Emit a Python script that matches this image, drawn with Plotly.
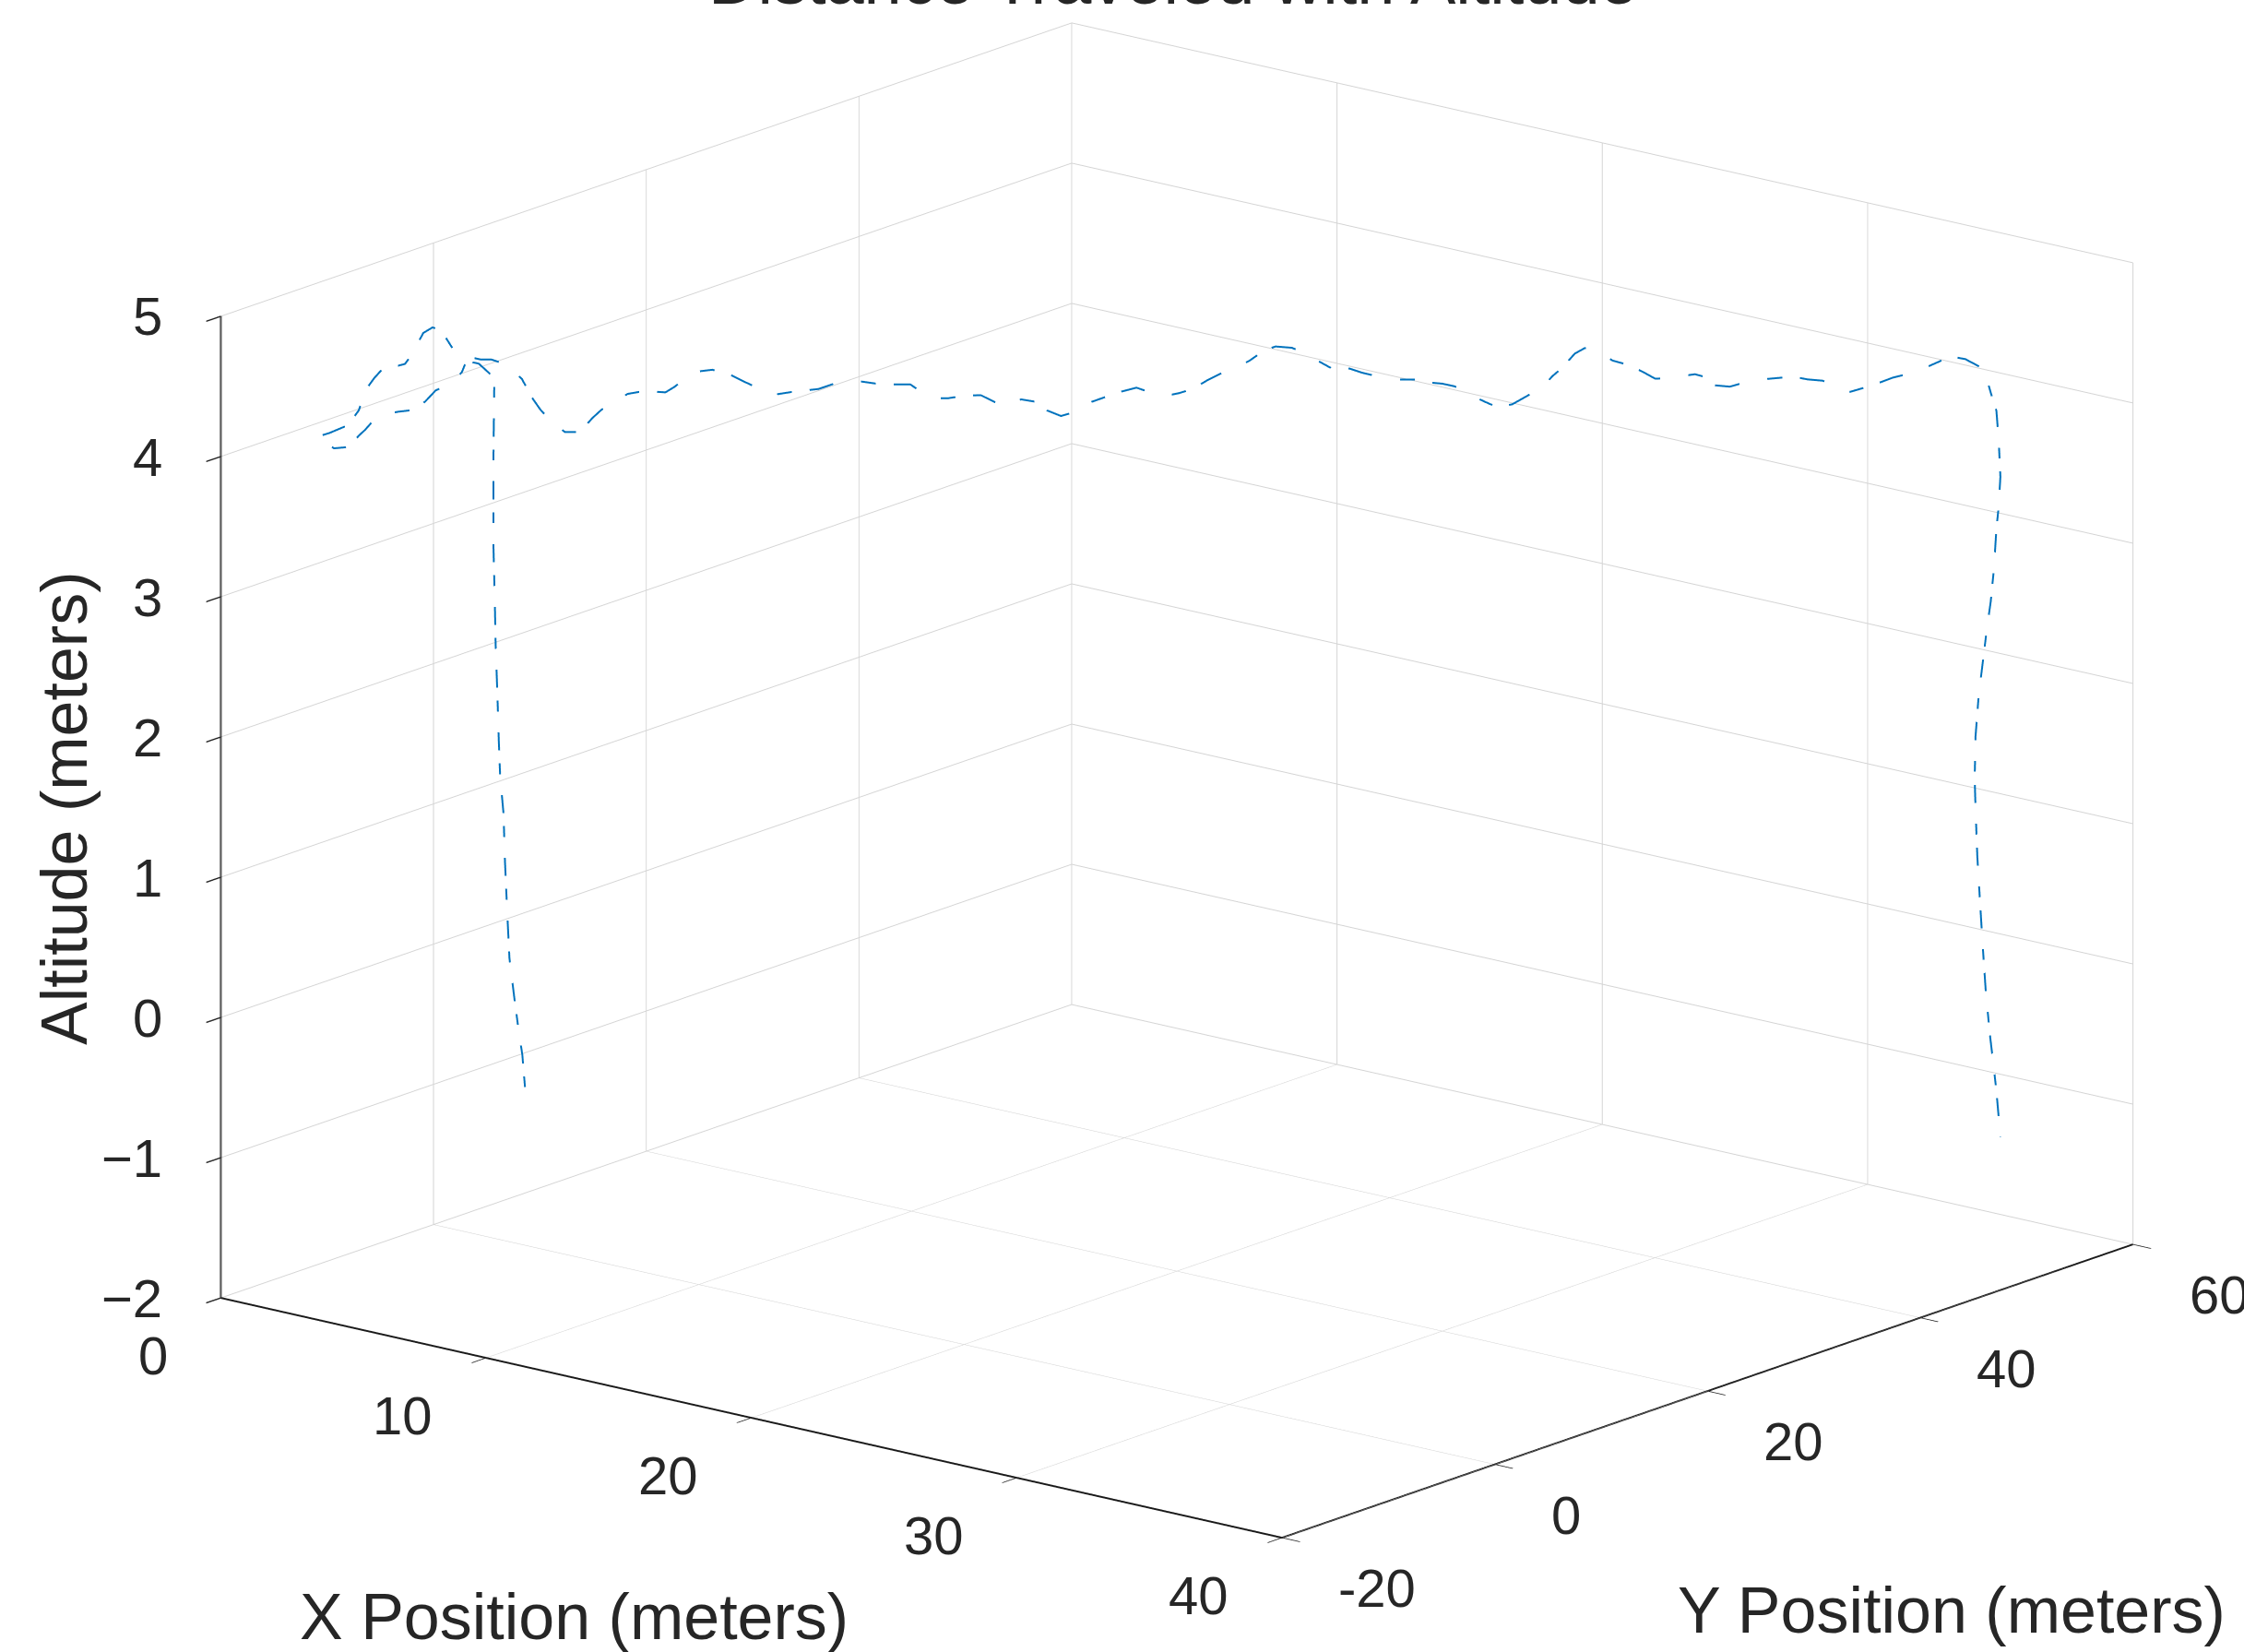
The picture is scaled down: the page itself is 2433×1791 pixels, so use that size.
import plotly.graph_objects as go

# Flight path (meters)
x_pos = [6.43, 6.37, 6.29, 6.19, 6.08, 6.03, 5.98, 5.95, 5.87, 5.84, 5.81, 5.77, 5.75, 5.72, 5.72, 5.72, 5.74,
         5.63, 5.39, 5.25, 5.04, 4.82, 4.66, 4.52, 4.35, 4.14, 3.97, 3.87, 3.73, 3.48, 3.21, 3.04, 2.90, 2.79,
         2.69, 2.55, 2.41, 2.03, 1.72, 1.86, 2.13, 2.48, 2.69, 2.83, 2.97, 3.21, 3.59, 3.87, 4.00, 4.18, 4.42,
         4.63, 4.80, 5.01, 5.15, 5.43, 5.67, 5.95, 6.19, 6.36, 6.46, 6.60, 6.78, 6.98, 7.09, 7.33, 7.64, 7.78,
         7.95, 8.16, 8.47, 8.74, 9.11, 9.59, 9.80, 10.07, 10.38, 10.65, 11.07, 11.39, 11.66, 12.03, 12.45, 13.04,
         13.41, 13.72, 14.04, 14.46, 15.10, 15.37, 15.63, 15.95, 16.37, 16.69, 17.01, 17.27, 17.59, 17.96, 18.18,
         18.49, 18.71, 18.92, 19.18, 19.45, 19.82, 20.19, 20.46, 20.83, 21.15, 21.46, 21.78, 22.10, 22.42, 22.74,
         23.05, 23.32, 23.69, 23.97, 24.25, 24.59, 24.99, 25.27, 25.66, 26.11, 26.45, 26.73, 27.07, 27.35, 27.69,
         28.03, 28.31, 28.64, 28.98, 29.32, 29.55, 29.77, 30.05, 30.28, 30.62, 30.90, 31.24, 31.57, 31.86, 32.19,
         32.53, 32.76, 32.98, 33.21, 33.54, 33.88, 34.22, 34.61, 34.95, 35.29, 35.63, 35.91, 36.25, 36.58, 36.87,
         37.21, 37.60, 37.94, 38.23, 38.50, 38.84, 39.19, 39.33, 39.41, 39.54, 39.59, 39.63, 39.59, 39.54, 39.48,
         39.41, 39.33, 39.23, 39.14, 39.07, 39.05, 39.07, 39.11, 39.16, 39.23, 39.30, 39.39, 39.47, 39.54, 39.63]

y_pos = [-7.44, -7.54, -7.68, -7.85, -8.03, -8.12, -8.20, -8.26, -8.38, -8.43, -8.49, -8.55, -8.59, -8.63, -8.63,
         -8.63, -8.61, -8.78, -9.19, -9.43, -9.78, -10.15, -10.42, -10.65, -10.94, -11.29, -11.58, -11.76, -11.99,
         -12.40, -12.87, -13.16, -13.39, -13.57, -13.74, -13.97, -14.21, -14.85, -15.37, -15.14, -14.67, -14.09,
         -13.74, -13.51, -13.27, -12.87, -12.22, -11.76, -11.53, -11.23, -10.83, -10.48, -10.18, -9.83, -9.60,
         -9.13, -8.73, -8.26, -7.85, -7.56, -7.38, -7.15, -6.86, -6.51, -6.33, -5.93, -5.40, -5.17, -4.88, -4.53,
         -4.00, -3.55, -2.92, -2.12, -1.77, -1.32, -0.78, -0.34, 0.38, 0.91, 1.36, 1.98, 2.70, 3.68, 4.30, 4.84,
         5.37, 6.09, 7.16, 7.61, 8.06, 8.59, 9.30, 9.84, 10.37, 10.82, 11.35, 11.98, 12.34, 12.87, 13.23, 13.59,
         14.04, 14.48, 15.11, 15.73, 16.18, 16.80, 17.34, 17.87, 18.41, 18.94, 19.48, 20.01, 20.55, 20.99, 21.62,
         22.10, 22.57, 23.14, 23.80, 24.28, 24.94, 25.70, 26.27, 26.74, 27.31, 27.79, 28.36, 28.92, 29.40, 29.97,
         30.54, 31.11, 31.48, 31.86, 32.34, 32.72, 33.29, 33.76, 34.33, 34.90, 35.37, 35.94, 36.51, 36.89, 37.27,
         37.65, 38.22, 38.79, 39.35, 40.02, 40.59, 41.15, 41.73, 42.20, 42.77, 43.34, 43.81, 44.38, 45.04, 45.61,
         46.10, 46.56, 47.13, 47.73, 47.96, 48.10, 48.31, 48.40, 48.46, 48.39, 48.31, 48.22, 48.10, 47.96, 47.79,
         47.64, 47.52, 47.49, 47.52, 47.59, 47.67, 47.79, 47.91, 48.06, 48.20, 48.31, 48.46]

altitude = [-0.55, -0.32, -0.15, 0.09, 0.37, 0.71, 1.06, 1.40, 1.67, 1.92, 2.26, 2.60, 2.95, 3.29, 3.64, 3.98, 4.46,
            4.54, 4.61, 4.62, 4.66, 4.71, 4.79, 4.85, 4.87, 4.83, 4.73, 4.67, 4.61, 4.59, 4.57, 4.51, 4.45, 4.37,
            4.28, 4.22, 4.17, 4.12, 4.09, 4.07, 4.01, 4.02, 4.10, 4.14, 4.19, 4.25, 4.27, 4.28, 4.30, 4.34, 4.42,
            4.45, 4.48, 4.55, 4.66, 4.64, 4.64, 4.61, 4.55, 4.50, 4.44, 4.36, 4.28, 4.21, 4.18, 4.12, 4.12, 4.16,
            4.22, 4.28, 4.34, 4.39, 4.41, 4.40, 4.44, 4.51, 4.55, 4.56, 4.52, 4.47, 4.43, 4.38, 4.40, 4.42, 4.46,
            4.48, 4.47, 4.45, 4.45, 4.39, 4.35, 4.35, 4.37, 4.37, 4.32, 4.29, 4.34, 4.32, 4.26, 4.22, 4.24, 4.25,
            4.32, 4.35, 4.39, 4.42, 4.39, 4.36, 4.38, 4.41, 4.47, 4.52, 4.56, 4.61, 4.68, 4.71, 4.70, 4.66, 4.61,
            4.55, 4.55, 4.52, 4.49, 4.47, 4.47, 4.45, 4.44, 4.42, 4.36, 4.31, 4.27, 4.29, 4.35, 4.41, 4.49, 4.55,
            4.65, 4.69, 4.66, 4.60, 4.57, 4.52, 4.47, 4.47, 4.49, 4.50, 4.48, 4.42, 4.41, 4.44, 4.46, 4.47, 4.48,
            4.46, 4.45, 4.41, 4.37, 4.40, 4.43, 4.47, 4.50, 4.54, 4.58, 4.62, 4.60, 4.54, 4.45, 4.36, 4.23, 4.02,
            3.76, 3.54, 3.39, 3.10, 2.87, 2.69, 2.43, 2.20, 1.91, 1.61, 1.39, 1.05, 0.79, 0.42, 0.09, -0.21, -0.43,
            -0.62, -0.95]

x_range = [0, 40]
y_range = [-20, 60]
z_range = [-2, 5]
x_ticks = [0, 10, 20, 30, 40]
x_ticktext = ["0", "10", "20", "30", "40"]
y_ticks = [-20, 0, 20, 40, 60]
y_ticktext = ["-20", "0", "20", "40", "60"]
z_ticks = [-2, -1, 0, 1, 2, 3, 4, 5]
z_ticktext = ["\u22122", "\u22121", "0", "1", "2", "3", "4", "5"]

W, H = 2433, 1791
TXT = "#262626"
FONT = "Liberation Sans, Arial, sans-serif"
TICK_SIZE = 58

fig = go.Figure()
fig.add_trace(go.Scatter3d(
    x=x_pos, y=y_pos, z=altitude, mode="lines",
    line=dict(color="#0072BD", width=4, dash="dashdot"),
    hoverinfo="skip", showlegend=False))

def axis(rng, tv):
    return dict(range=rng, autorange=False, tickmode="array", tickvals=tv,
                showticklabels=False,
                showbackground=False, showgrid=True, gridcolor="#D4D4D4", gridwidth=2,
                zeroline=False, showline=True, linecolor="#1A1A1A", linewidth=4,
                ticks="outside", ticklen=25, tickwidth=3, tickcolor=TXT,
                showspikes=False, title=dict(text=""))

x0, x1 = x_range
y0, y1 = y_range
z0, z1 = z_range
tick_font = dict(family=FONT, size=TICK_SIZE, color=TXT)
scene_ann = []
for v, t in zip(x_ticks, x_ticktext):
    scene_ann.append(dict(x=v, y=y0, z=z0, text=t, showarrow=False,
                          xanchor="right", yanchor="middle", xshift=-56, yshift=-62, font=tick_font))
for v, t in zip(y_ticks, y_ticktext):
    scene_ann.append(dict(x=x1, y=v, z=z0, text=t, showarrow=False,
                          xanchor="left", yanchor="middle", xshift=59, yshift=-54, font=tick_font))
for v, t in zip(z_ticks, z_ticktext):
    scene_ann.append(dict(x=x0, y=y0, z=v, text=t, showarrow=False,
                          xanchor="right", yanchor="middle", xshift=-62, yshift=0, font=tick_font))

ex, ey, ez = 0.604, -0.746, 0.279
fig.update_layout(
    width=W, height=H, margin=dict(l=0, r=0, t=0, b=0),
    paper_bgcolor="white", plot_bgcolor="white", template="none",
    hovermode=False,
    scene=dict(
        domain=dict(x=[0.049, 1], y=[0.055, 1]),
        xaxis=axis(x_range, x_ticks),
        yaxis=axis(y_range, y_ticks),
        zaxis=axis(z_range, z_ticks),
        aspectmode="manual", aspectratio=dict(x=1.75, y=1.733, z=1.31),
        bgcolor="white",
        camera=dict(eye=dict(x=ex * 1.156, y=ey * 1.156, z=ez * 1.156),
                    center=dict(x=0, y=0, z=0), up=dict(x=0, y=0, z=1),
                    projection=dict(type="orthographic")),
        annotations=scene_ann,
    ),
    annotations=[
        dict(text="Distance Traveled with Altitude", x=1272 / W, y=1 - 22 / H, xref="paper", yref="paper",
             xanchor="center", yanchor="bottom", showarrow=False, font=dict(family=FONT, size=74, color=TXT)),
        dict(text="X Position (meters)", x=622 / W, y=1 - 1753 / H, xref="paper", yref="paper",
             xanchor="center", yanchor="middle", showarrow=False, font=dict(family=FONT, size=70, color=TXT)),
        dict(text="Y Position (meters)", x=2116 / W, y=1 - 1746 / H, xref="paper", yref="paper",
             xanchor="center", yanchor="middle", showarrow=False, font=dict(family=FONT, size=70, color=TXT)),
        dict(text="Altitude (meters)", x=70 / W, y=1 - 877 / H, xref="paper", yref="paper", textangle=-90,
             xanchor="center", yanchor="middle", showarrow=False, font=dict(family=FONT, size=70, color=TXT)),
    ],
)

fig.write_html("out.html", include_plotlyjs=True, config={"displayModeBar": False},
               post_script="document.body.style.margin='0';document.body.style.overflow='hidden';")
